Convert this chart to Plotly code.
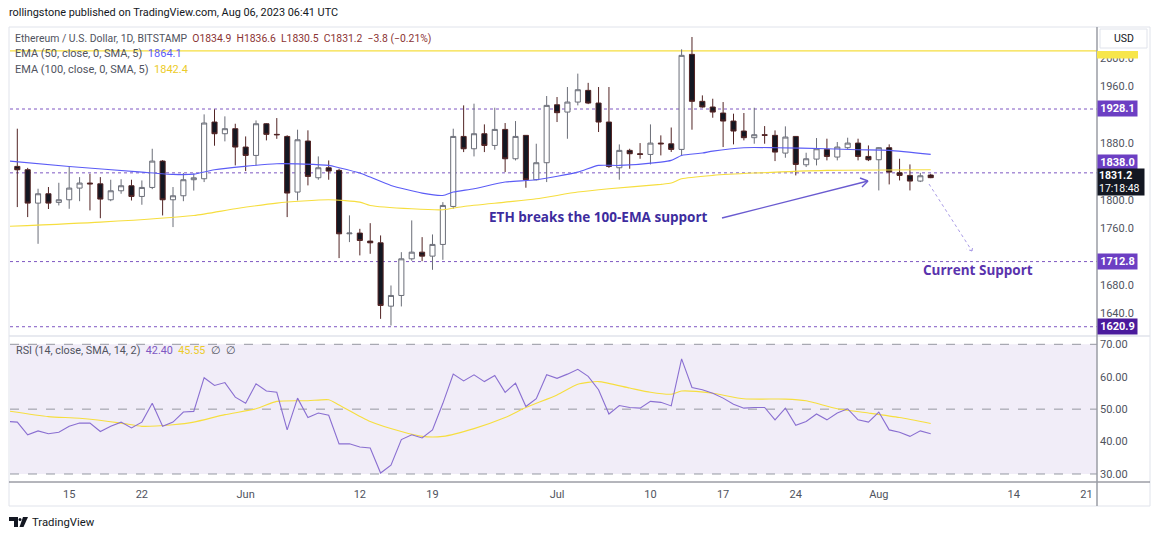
import plotly.graph_objects as go
import pandas as pd

W, H = 1160, 539
def PX(x): return x / W
def PY(y): return 1 - y / H

# ---------------- data ----------------
dates = pd.date_range('2023-05-10', '2023-08-06', freq='D')
opens = [1847.1, 1842.4, 1795.3, 1808.5, 1796.3, 1800.0, 1816.5, 1823.6, 1822.5, 1800.0,
         1812.7, 1819.8, 1804.7, 1817.4, 1854.6, 1800.0, 1805.7, 1828.3, 1829.7, 1909.7,
         1893.2, 1900.3, 1874.4, 1862.6, 1907.3, 1892.3, 1889.4, 1810.9, 1882.9, 1831.1,
         1845.2, 1841.5, 1752.0, 1753.0, 1741.7, 1739.3, 1649.9, 1665.0, 1716.7, 1726.1,
         1720.5, 1737.0, 1790.6, 1889.4, 1872.0, 1893.2, 1876.7, 1899.3, 1857.9, 1890.9,
         1828.3, 1852.3, 1934.1, 1923.8, 1937.9, 1954.4, 1936.5, 1909.7, 1845.2, 1869.7,
         1865.0, 1864.0, 1880.0, 1879.0, 1871.1, 2005.2, 1938.9, 1930.9, 1922.4, 1911.1,
         1897.0, 1887.6, 1891.8, 1890.9, 1865.9, 1889.4, 1849.4, 1857.4, 1871.1, 1860.3,
         1873.5, 1880.0, 1861.2, 1856.5, 1873.5, 1838.2, 1834.4, 1826.4, 1834.9]
highs = [1900.3, 1845.0, 1815.6, 1818.0, 1824.0, 1847.0, 1832.0, 1836.7, 1832.0, 1828.3,
         1829.0, 1828.3, 1827.3, 1872.0, 1856.0, 1818.0, 1837.7, 1837.0, 1920.5, 1927.6,
         1917.7, 1907.3, 1889.4, 1912.0, 1908.0, 1915.3, 1891.0, 1898.9, 1898.0, 1861.2,
         1855.5, 1843.8, 1778.0, 1759.0, 1767.0, 1749.7, 1679.1, 1726.1, 1770.9, 1747.3,
         1751.1, 1796.7, 1900.3, 1933.2, 1935.6, 1906.4, 1929.9, 1908.3, 1911.1, 1891.0,
         1879.1, 1946.4, 1945.0, 1959.1, 1978.0, 1965.0, 1959.1, 1959.1, 1878.1, 1872.0,
         1880.0, 1906.4, 1890.9, 1902.0, 2012.3, 2029.7, 1947.3, 1942.6, 1937.9, 1921.5,
         1922.4, 1929.9, 1904.0, 1897.9, 1903.6, 1890.0, 1866.4, 1887.1, 1886.2, 1881.5,
         1887.6, 1886.2, 1876.7, 1874.0, 1878.2, 1857.9, 1849.9, 1838.0, 1836.6]
lows = [1789.7, 1775.6, 1737.9, 1787.0, 1792.0, 1787.3, 1798.0, 1785.0, 1774.0, 1798.0,
        1808.5, 1799.0, 1793.0, 1815.0, 1777.9, 1761.5, 1798.0, 1813.0, 1825.0, 1876.3,
        1882.4, 1848.5, 1840.5, 1848.5, 1883.8, 1886.0, 1775.6, 1799.0, 1820.3, 1828.3,
        1828.3, 1717.7, 1740.3, 1721.5, 1723.8, 1632.0, 1622.6, 1649.5, 1714.0, 1713.4,
        1701.2, 1715.3, 1787.3, 1867.3, 1861.2, 1867.3, 1870.6, 1839.1, 1855.5, 1817.0,
        1827.3, 1825.0, 1909.7, 1886.1, 1933.2, 1935.0, 1895.6, 1845.0, 1828.3, 1843.8,
        1857.9, 1849.9, 1862.6, 1867.5, 1862.6, 1898.9, 1930.0, 1915.8, 1874.4, 1878.2,
        1883.8, 1879.1, 1879.1, 1854.6, 1859.3, 1834.4, 1846.2, 1848.5, 1855.6, 1855.6,
        1871.1, 1855.6, 1854.6, 1813.2, 1821.7, 1827.3, 1813.2, 1825.0, 1830.5]
closes = [1842.4, 1795.3, 1808.5, 1795.3, 1800.0, 1816.5, 1823.6, 1822.5, 1801.0, 1812.7,
          1819.8, 1804.7, 1817.4, 1854.6, 1800.0, 1805.7, 1828.3, 1831.0, 1908.3, 1893.2,
          1900.3, 1874.4, 1862.6, 1907.3, 1892.3, 1891.8, 1809.5, 1884.7, 1833.0, 1845.2,
          1840.5, 1752.0, 1753.0, 1742.6, 1739.3, 1650.9, 1665.0, 1716.7, 1726.1, 1720.5,
          1737.0, 1792.0, 1889.4, 1872.0, 1893.2, 1876.7, 1899.3, 1857.9, 1889.4, 1828.3,
          1852.3, 1933.2, 1922.9, 1937.9, 1955.3, 1936.5, 1909.7, 1847.1, 1869.7, 1865.0,
          1864.0, 1880.0, 1879.0, 1871.1, 2003.8, 1938.9, 1930.9, 1923.8, 1911.1, 1897.0,
          1887.6, 1891.8, 1891.0, 1867.3, 1888.5, 1849.9, 1857.9, 1872.0, 1861.2, 1874.4,
          1880.0, 1861.2, 1856.5, 1873.5, 1839.1, 1834.4, 1826.4, 1833.9, 1831.2]

ema50_dates = ['2023-05-09', '2023-05-15', '2023-05-22', '2023-05-25', '2023-05-27', '2023-05-29',
               '2023-06-04', '2023-06-09', '2023-06-10', '2023-06-12', '2023-06-13', '2023-06-15',
               '2023-06-18', '2023-06-20', '2023-06-21', '2023-06-23', '2023-06-26', '2023-06-29',
               '2023-07-03', '2023-07-05', '2023-07-07', '2023-07-11', '2023-07-12', '2023-07-13',
               '2023-07-15', '2023-07-16', '2023-07-19', '2023-07-22', '2023-07-27', '2023-07-30',
               '2023-08-02', '2023-08-06']
ema50 = [1855.0, 1847.0, 1839.0, 1835.8, 1836.2, 1842.4, 1850.9, 1848.5, 1845.2, 1837.7,
         1832.0, 1820.3, 1809.4, 1806.1, 1810.9, 1815.6, 1825.0, 1828.3, 1839.0, 1848.5,
         1848.5, 1853.2, 1855.6, 1862.6, 1865.9, 1868.7, 1873.5, 1873.5, 1872.0, 1870.6,
         1869.7, 1864.1]

ema100_dates = ['2023-05-09', '2023-05-18', '2023-05-27', '2023-05-31', '2023-06-04', '2023-06-09',
                '2023-06-12', '2023-06-13', '2023-06-17', '2023-06-20', '2023-06-22', '2023-06-26',
                '2023-06-29', '2023-07-03', '2023-07-06', '2023-07-11', '2023-07-12', '2023-07-13',
                '2023-07-16', '2023-07-20', '2023-07-27', '2023-08-06']
ema100 = [1762.4, 1768.5, 1777.9, 1787.3, 1795.3, 1800.0, 1796.7, 1792.0, 1787.3, 1785.9,
          1790.6, 1796.7, 1801.4, 1810.9, 1815.6, 1821.7, 1823.6, 1829.7, 1834.4, 1837.7,
          1841.5, 1842.4]

rsi_dates = pd.date_range('2023-05-09', '2023-08-06', freq='D')
rsi = [46.2, 46.0, 42.1, 43.3, 42.4, 42.9, 44.7, 45.7, 45.7, 43.1,
       44.7, 46.0, 44.2, 46.0, 51.8, 44.7, 46.0, 49.1, 49.3, 59.7,
       57.3, 58.2, 53.7, 51.8, 57.8, 55.6, 55.2, 43.6, 53.4, 47.4,
       48.8, 48.1, 39.3, 39.3, 38.3, 38.0, 30.3, 32.7, 40.6, 42.1,
       41.1, 43.6, 51.8, 60.8, 58.7, 60.6, 58.5, 60.4, 55.2, 58.0,
       50.8, 53.2, 60.6, 59.5, 60.8, 62.3, 60.1, 56.0, 48.5, 51.1,
       50.5, 50.3, 52.4, 52.1, 51.0, 65.5, 56.7, 56.0, 54.9, 53.4,
       51.5, 50.3, 50.5, 50.5, 46.7, 50.3, 45.0, 46.2, 48.5, 46.7,
       48.8, 50.1, 46.7, 46.0, 49.1, 43.6, 42.9, 41.6, 43.3, 42.4]

rsi_sma_dates = ['2023-05-09', '2023-05-13', '2023-05-16', '2023-05-20', '2023-05-22', '2023-05-25',
                 '2023-05-27', '2023-05-30', '2023-06-02', '2023-06-04', '2023-06-07', '2023-06-09',
                 '2023-06-10', '2023-06-13', '2023-06-16', '2023-06-18', '2023-06-20', '2023-06-23',
                 '2023-06-26', '2023-06-28', '2023-07-01', '2023-07-03', '2023-07-05', '2023-07-08',
                 '2023-07-10', '2023-07-12', '2023-07-13', '2023-07-16', '2023-07-19', '2023-07-23',
                 '2023-07-25', '2023-07-26', '2023-07-28', '2023-07-31', '2023-08-03', '2023-08-06']
rsi_sma = [49.5, 47.7, 47.2, 45.7, 44.7, 45.2, 46.0, 48.3, 50.1, 52.4, 52.6, 52.9,
           51.3, 46.2, 43.1, 41.6, 41.6, 44.0, 47.4, 50.5, 54.4, 57.7, 58.5, 56.5,
           55.2, 54.6, 55.6, 54.9, 53.2, 53.1, 52.6, 51.8, 50.1, 48.8, 47.4, 45.55]

level_prices = [1928.1, 1838.0, 1712.8, 1620.9]
level_texts = ['1928.1', '1838.0', '1712.8', '1620.9']
high_line_price = 2010.0

# tick labels that stay visible (the others sit under the price tags)
price_ticks = [1640, 1680, 1760, 1800, 1880, 1960, 2000]
rsi_ticks = [30, 40, 50, 60, 70]
x_tick_dates = ['2023-05-15', '2023-05-22', '2023-06-01', '2023-06-12', '2023-06-19', '2023-07-01',
                '2023-07-10', '2023-07-17', '2023-07-24', '2023-08-01', '2023-08-14', '2023-08-21']
x_tick_text = ['15', '22', 'Jun', '12', '19', 'Jul', '10', '17', '24', 'Aug', '14', '21']

# ---------------- styles ----------------
FONT = 'Roboto'
PURPLE = '#7e57c2'
BLUE = '#5b5cf6'
YELLOW = '#f6de3f'
GRAY_TXT = '#50535e'

fig = go.Figure()

fig.add_trace(go.Candlestick(
    x=dates, open=opens, high=highs, low=lows, close=closes,
    xaxis='x2', yaxis='y',
    increasing=dict(fillcolor='#ffffff', line=dict(color='#6b6e78', width=1)),
    decreasing=dict(fillcolor='#131722', line=dict(color='#522424', width=1)),
    whiskerwidth=0, showlegend=False, hoverinfo='skip'))

fig.add_trace(go.Scatter(x=ema50_dates, y=ema50, mode='lines', xaxis='x2', yaxis='y',
                         line=dict(color=BLUE, width=1.1, shape='spline', smoothing=0.6),
                         showlegend=False, hoverinfo='skip'))
fig.add_trace(go.Scatter(x=ema100_dates, y=ema100, mode='lines', xaxis='x2', yaxis='y',
                         line=dict(color=YELLOW, width=1.1, shape='spline', smoothing=0.6),
                         showlegend=False, hoverinfo='skip'))

fig.add_trace(go.Scatter(x=rsi_sma_dates, y=rsi_sma, mode='lines', xaxis='x', yaxis='y2',
                         line=dict(color=YELLOW, width=1.1, shape='spline', smoothing=0.6),
                         showlegend=False, hoverinfo='skip'))
fig.add_trace(go.Scatter(x=rsi_dates, y=rsi, mode='lines', xaxis='x', yaxis='y2',
                         line=dict(color='#8a6fd1', width=1.1),
                         showlegend=False, hoverinfo='skip'))

X0, X1 = PX(10), PX(1097)
shapes = []
# RSI band
shapes.append(dict(type='rect', xref='paper', yref='y2', x0=X0, x1=X1, y0=30, y1=70,
                   fillcolor='rgba(126,87,194,0.11)', line=dict(width=0), layer='below'))
for lv in rsi_ticks[::2]:
    shapes.append(dict(type='line', xref='paper', yref='y2', x0=X0, x1=X1, y0=lv, y1=lv,
                       line=dict(color='#9598a1', width=1, dash='dash'), layer='below'))
# price levels
for p in level_prices:
    shapes.append(dict(type='line', xref='paper', yref='y', x0=X0, x1=X1, y0=p, y1=p,
                       line=dict(color=PURPLE, width=1, dash='dot'), layer='below'))
shapes.append(dict(type='line', xref='paper', yref='y', x0=X0, x1=X1,
                   y0=high_line_price, y1=high_line_price,
                   line=dict(color=YELLOW, width=1.3), layer='below'))
# frame lines
shapes.append(dict(type='rect', xref='paper', yref='paper', x0=PX(9), x1=PX(1150), y0=PY(506), y1=PY(27),
                   line=dict(color='#e0e3eb', width=1)))
shapes.append(dict(type='line', xref='paper', yref='paper', x0=PX(9), x1=PX(1150), y0=PY(336), y1=PY(336),
                   line=dict(color='#e0e3eb', width=1.5)))
shapes.append(dict(type='line', xref='paper', yref='paper', x0=PX(9), x1=PX(1150), y0=PY(482), y1=PY(482),
                   line=dict(color='#6a6d78', width=1)))
shapes.append(dict(type='line', xref='paper', yref='paper', x0=PX(1097), x1=PX(1097), y0=PY(506), y1=PY(27),
                   line=dict(color='#9a9ca5', width=1.5)))

# arrows (pixel geometry for the drawing annotations)
def seg(xa, ya, xb, yb, color, width=1.2, dash='solid'):
    return dict(type='line', xref='paper', yref='paper', x0=PX(xa), y0=PY(ya), x1=PX(xb), y1=PY(yb),
                line=dict(color=color, width=width, dash=dash))
AR = '#6a5bd0'
shapes.append(seg(722, 218, 868, 181, AR, 1.4))
shapes.append(seg(868, 181, 860, 178, AR, 1.4))
shapes.append(seg(868, 181, 862, 187, AR, 1.4))
AR2 = '#a99be6'
shapes.append(seg(929, 184, 972, 251, AR2, 1, 'dot'))
shapes.append(seg(972, 251, 966, 249, AR2, 1, 'dot'))
shapes.append(seg(972, 251, 973, 245, AR2, 1, 'dot'))

# yellow level box (partly under the USD area)
shapes.append(dict(type='rect', xref='paper', yref='paper', x0=PX(1097), x1=PX(1138), y0=PY(58.5), y1=PY(51),
                   fillcolor='#f7e64a', line=dict(width=0)))
# white cover + USD button
shapes.append(dict(type='rect', xref='paper', yref='paper', x0=PX(1098), x1=PX(1149), y0=PY(50.5), y1=PY(28),
                   fillcolor='#ffffff', line=dict(width=0)))
shapes.append(dict(type='rect', xref='paper', yref='paper', x0=PX(1100), x1=PX(1147), y0=PY(48), y1=PY(29),
                   fillcolor='#ffffff', line=dict(color='#e0e3eb', width=1)))

# TradingView logo glyph
def path(pts):
    return 'M ' + ' L '.join(f'{PX(x):.5f},{PY(y):.5f}' for x, y in pts) + ' Z'
shapes.append(dict(type='path', xref='paper', yref='paper',
                   path=path([(9, 517), (18, 517), (18, 527), (14, 527), (14, 521), (9, 521)]),
                   fillcolor='#131722', line=dict(width=0)))
shapes.append(dict(type='circle', xref='paper', yref='paper', x0=PX(18.5), x1=PX(21.5), y0=PY(521), y1=PY(518),
                   fillcolor='#131722', line=dict(width=0)))
shapes.append(dict(type='path', xref='paper', yref='paper',
                   path=path([(23, 517), (28, 517), (23.5, 527), (19.5, 527)]),
                   fillcolor='#131722', line=dict(width=0)))

ann = []
def txt(x, y, text, size=11, color=GRAY_TXT, xanchor='left', bold=False, family=FONT):
    ann.append(dict(xref='paper', yref='paper', x=PX(x), y=PY(y), text=f'<b>{text}</b>' if bold else text,
                    showarrow=False, xanchor=xanchor, yanchor='middle',
                    font=dict(family=family, size=size, color=color)))

NB = '\u00a0'
txt(7, 13, 'rollingstone published on TradingView.com, Aug 06, 2023 06:41 UTC', 10.9, '#131722')
txt(13, 38, f'Ethereum / U.S. Dollar, 1D, BITSTAMP{NB}{NB}<span style="color:#8b3434">O1834.9{NB}{NB}H1836.6{NB}{NB}L1830.5{NB}{NB}C1831.2{NB}{NB}\u22123.8 (\u22120.21%)</span>', 10.4)
txt(13, 53, f'EMA (50, close, 0, SMA, 5){NB}{NB}<span style="color:{BLUE}">1864.1</span>', 11)
txt(13, 69, f'EMA (100, close, 0, SMA, 5){NB}{NB}<span style="color:#eccb2a">1842.4</span>', 11)
txt(14, 350, f'RSI (14, close, SMA, 14, 2){NB}{NB}<span style="color:{PURPLE}">42.40</span>{NB}{NB}<span style="color:#eccb2a">45.55</span>{NB}{NB}\u2205{NB}{NB}\u2205', 10.8)

txt(487, 217, 'ETH breaks the 100-EMA support', 13.5, '#3d2c9e', bold=True, family='Open Sans')
txt(978, 270, 'Current Support', 13.5, '#5a33ad', xanchor='center', bold=True, family='Open Sans')

txt(30, 522, 'TradingView', 11.3, '#131722')
txt(1123.5, 38.5, 'USD', 10.5, '#131722', xanchor='center')

# right axis price labels
def plabel(ypix, text, bg, fg='#ffffff'):
    ann.append(dict(xref='paper', yref='paper', x=PX(1097), y=PY(ypix), xanchor='left', yanchor='middle',
                    text=f'<b>{text}</b>', showarrow=False, bgcolor=bg, width=37, height=13,
                    borderpad=1, align='center', font=dict(family=FONT, size=11, color=fg)))
def price_to_pix(p):
    return 109 + (1928.1 - p) * 0.7087
label_y = []
for p in level_prices:
    yy = price_to_pix(p)
    if abs(p - 1838.0) < 1e-6:
        yy -= 10  # pushed up to clear the last-price label, as in the reference
    label_y.append(yy)
for p, t, yy in zip(level_prices, level_texts, label_y):
    plabel(yy, t, '#4a1a9c' if p < 1650 else '#6c3fc3')
ann.append(dict(xref='paper', yref='paper', x=PX(1097), y=PY(181.8), xanchor='left', yanchor='middle',
                text='<b>1831.2</b><br>17:18:48', showarrow=False, bgcolor='#131722', width=44, height=24,
                borderpad=1, align='left', font=dict(family=FONT, size=10.5, color='#ffffff')))

fig.update_layout(
    width=W, height=H, margin=dict(l=0, r=0, t=0, b=0),
    paper_bgcolor='#ffffff', plot_bgcolor='#ffffff',
    showlegend=False, shapes=shapes, annotations=ann,
    font=dict(family=FONT),
    xaxis=dict(domain=[X0, X1], anchor='y2', type='date',
               range=['2023-05-09 07:07', '2023-08-22 00:30'],
               tickvals=x_tick_dates, ticktext=x_tick_text, ticks='',
               tickfont=dict(size=11, color=GRAY_TXT, family=FONT), ticklabelstandoff=4,
               showgrid=False, zeroline=False, showline=False, automargin=False,
               rangeslider=dict(visible=False), fixedrange=True),
    xaxis2=dict(domain=[X0, X1], anchor='y', type='date', matches='x', showticklabels=False,
                showgrid=False, zeroline=False, showline=False, ticks='',
                rangeslider=dict(visible=False), fixedrange=True),
    yaxis=dict(domain=[PY(336), PY(27)], anchor='x2', side='right', range=[1607.8, 2043.8],
               tickvals=price_ticks, ticktext=[f'{v:.1f}' for v in price_ticks], ticks='',
               tickfont=dict(size=11, color=GRAY_TXT, family=FONT), ticklabelstandoff=2,
               showgrid=False, zeroline=False, showline=False, automargin=False, fixedrange=True),
    yaxis2=dict(domain=[PY(482), PY(336)], anchor='x', side='right', range=[27.53, 72.56],
                tickvals=rsi_ticks, ticktext=[f'{v:.2f}' for v in rsi_ticks], ticks='',
                tickfont=dict(size=11, color=GRAY_TXT, family=FONT), ticklabelstandoff=2,
                showgrid=False, zeroline=False, showline=False, automargin=False, fixedrange=True),
)

fig.write_html('out.html', config={'displayModeBar': False},
               post_script="document.body.style.margin='0';document.body.style.overflow='hidden';")
